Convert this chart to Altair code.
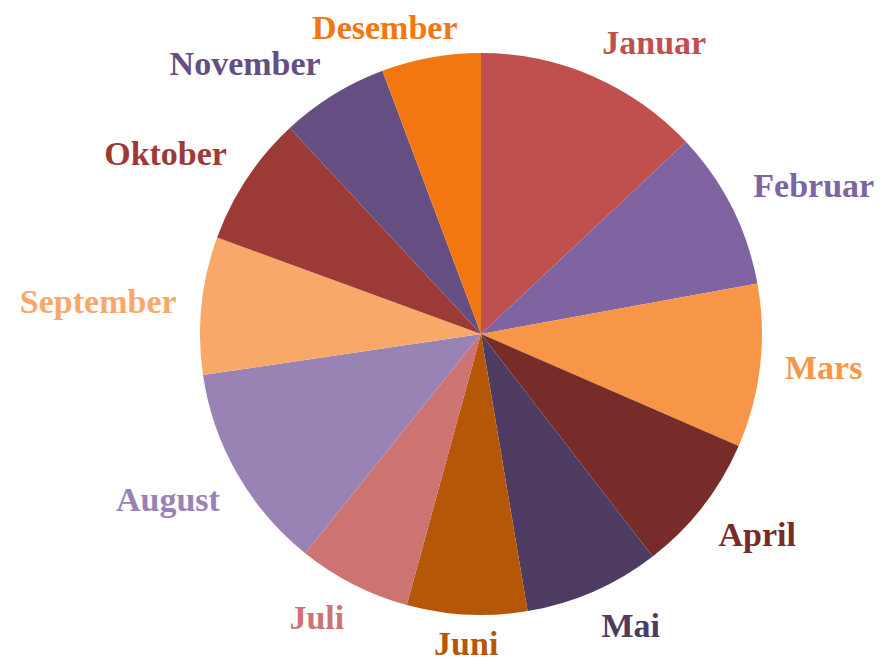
import altair as alt
import pandas as pd

months = ["Januar", "Februar", "Mars", "April", "Mai", "Juni",
          "Juli", "August", "September", "Oktober", "November", "Desember"]
values = [13.0, 9.1, 9.4, 8.0, 7.8, 6.9, 6.5, 11.9, 7.9, 7.5, 6.2, 5.7]
colors = ["#C0504D", "#8064A2", "#F79646", "#772C2A", "#4D3B62", "#B65708",
          "#CD7371", "#9983B5", "#F8A96A", "#9C3A38", "#654F82", "#F37710"]

# label groups by where they sit around the pie
upper_right = ["Januar", "Februar"]
mid_right = ["Mars"]
lower_right = ["April", "Mai"]
bottom = ["Juni"]
lower_left = ["Juli", "August"]
mid_left = ["September"]
upper_left = ["Oktober", "November"]
top = ["Desember"]

df = pd.DataFrame({"month": months, "value": values, "order": list(range(len(months)))})

CX, CY = 473, 326
R = 281
FONT = "Liberation Serif"
FS = 34

color = alt.Color("month:N", scale=alt.Scale(domain=months, range=colors), legend=None)
theta_scale = alt.Scale(zero=True, nice=False)

arc = alt.Chart().mark_arc(outerRadius=R).encode(
    theta=alt.Theta("value:Q", stack=True, scale=theta_scale),
    order=alt.Order("order:Q", sort="ascending"),
    color=color,
    x=alt.value(CX),
    y=alt.value(CY),
)


def labels(group, align, baseline, radius, dx=0):
    return alt.Chart().transform_filter(
        alt.FieldOneOfPredicate(field="month", oneOf=group)
    ).mark_text(
        align=align, baseline=baseline, radius=radius, dx=dx,
        font=FONT, fontSize=FS, fontWeight="bold"
    ).encode(
        theta=alt.Theta("mid:Q", stack=None, scale=theta_scale),
        text="month:N",
        color=color,
        x=alt.value(CX),
        y=alt.value(CY),
    )


chart = alt.layer(
    arc,
    labels(upper_right, "left", "alphabetic", 305),
    labels(mid_right, "left", "middle", 306),
    labels(lower_right, "left", "top", 301),
    labels(bottom, "center", "top", 294),
    labels(lower_left, "right", "top", 301),
    labels(mid_left, "right", "middle", 306),
    labels(upper_left, "right", "alphabetic", 305),
    labels(top, "right", "alphabetic", 300, dx=30),
    data=df,
).transform_window(
    cum="sum(value)", sort=[alt.SortField("order")], frame=[None, 0]
).transform_calculate(
    mid="datum.cum - datum.value / 2",
).properties(
    width=867, height=653,
    autosize=alt.AutoSizeParams(type="none"),
    padding=0,
    background="white",
).configure_view(stroke=None)

chart.save("out.html", embed_options={"renderer": "svg", "actions": False})
